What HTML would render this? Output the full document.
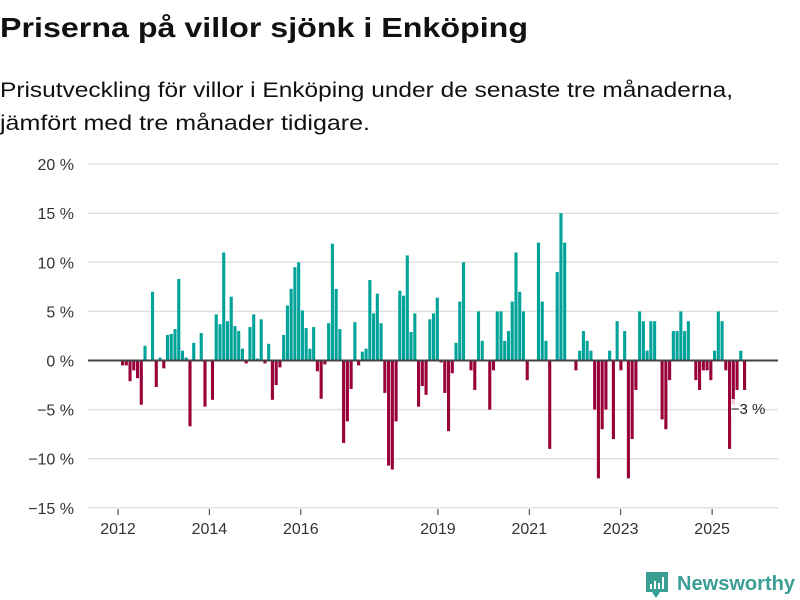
<!DOCTYPE html>
<html><head><meta charset="utf-8"><style>
html,body{margin:0;padding:0;background:#fff;width:800px;height:600px;overflow:hidden}
svg{display:block;font-family:"Liberation Sans","DejaVu Sans",sans-serif}
</style></head><body>
<svg id="chart" width="800" height="600" viewBox="0 0 800 600">
<text x="0" y="37" font-size="28" font-weight="bold" fill="#111" textLength="528" lengthAdjust="spacingAndGlyphs">Priserna på villor sjönk i Enköping</text>
<text x="0" y="97" font-size="21" fill="#111" textLength="733" lengthAdjust="spacingAndGlyphs">Prisutveckling för villor i Enköping under de senaste tre månaderna,</text>
<text x="0" y="130" font-size="21" fill="#111" textLength="370" lengthAdjust="spacingAndGlyphs">jämfört med tre månader tidigare.</text>
<g id="grid"></g>
<g id="yaxis"></g>
<g id="bars"></g>
<line x1="88" x2="778" y1="360.5" y2="360.5" stroke="#444" stroke-width="2"/>
<g id="xaxis"></g>
<g id="label"></g>
<g>
<path d="M646 572 h22 v20 h-8 l-4 6 l-4 -6 h-6 z" fill="#3a9e94"/>
<rect x="650" y="584" width="2" height="5" fill="#fff"/><rect x="654" y="581" width="2" height="8" fill="#fff"/><rect x="658" y="583" width="2" height="6" fill="#fff"/><rect x="662" y="577" width="2" height="12" fill="#fff"/>
<text x="677" y="590" font-size="20" font-weight="bold" fill="#3a9e94" textLength="118" lengthAdjust="spacingAndGlyphs">Newsworthy</text>
</g>
</svg>
<script>
const values = [-0.5,-0.5,-2.1,-1,-1.8,-4.5,1.5,0,7,-2.7,0.3,-0.8,2.6,2.7,3.2,8.3,1,0.3,-6.7,1.8,0,2.8,-4.7,0,-4,4.7,3.7,11,4,6.5,3.5,3,1.2,-0.3,3.4,4.7,0.2,4.2,-0.3,1.7,-4,-2.5,-0.7,2.6,5.6,7.3,9.5,10,5.1,3.3,1.2,3.4,-1.1,-3.9,-0.4,3.8,11.9,7.3,3.2,-8.4,-6.2,-2.9,3.9,-0.5,0.9,1.2,8.2,4.8,6.8,3.8,-3.3,-10.7,-11.1,-6.2,7.1,6.6,10.7,2.9,4.8,-4.7,-2.6,-3.5,4.2,4.8,6.4,-0.2,-3.3,-7.2,-1.3,1.8,6,10,0,-1,-3,5,2,0,-5,-1,5,5,2,3,6,11,7,5,-2,0,0,12,6,2,-9,0,9,15,12,0,0,-1,1,3,2,1,-5,-12,-7,-5,1,-8,4,-1,3,-12,-8,-3,5,4,1,4,4,0,-6,-7,-2,3,3,5,3,4,0,-2,-3,-1,-1,-2,1,5,4,-1,-9,-4.5,-3,1,-3];
const yTicks = [20,15,10,5,0,-5,-10,-15];
const yTickLabels = ["20 %","15 %","10 %","5 %","0 %","−5 %","−10 %","−15 %"];
const xTickYears = [2012,2014,2016,2019,2021,2023,2025];
const lastLabel = "−3 %";
const NS="http://www.w3.org/2000/svg";
function y(v){return 360.5 - v*9.82;}
function xBar(i){return 121 + i*3.747;}
function xYear(yr){return 118 + (yr-2012)*45.7;}
function mk(t,a){const e=document.createElementNS(NS,t);for(const k in a)e.setAttribute(k,a[k]);return e;}
const grid=document.getElementById('grid'),ya=document.getElementById('yaxis');
yTicks.forEach((t,i)=>{
  if(t!==0){const l=mk('line',{x1:88,x2:778,y1:y(t),y2:y(t),stroke:'#e0e0e0','stroke-width':1.5});
  
  
  grid.appendChild(l);}
  const tx=mk('text',{x:74,y:y(t)+6,'font-size':16,fill:'#333','text-anchor':'end'});
  tx.textContent=yTickLabels[i];
  
  
  ya.appendChild(tx);
});
const bars=document.getElementById('bars');
values.forEach((v,i)=>{
  const r=mk('rect',{x:xBar(i),width:3.1,y:Math.min(y(v),y(0)),height:Math.abs(y(v)-y(0)),fill:v>=0?'#00a399':'#990039'});
  
  
  bars.appendChild(r);
});
const xa=document.getElementById('xaxis');
xTickYears.forEach(yr=>{
  const t=mk('line',{x1:xYear(yr),x2:xYear(yr),y1:509,y2:515,stroke:'#333','stroke-width':1});
  
  
  xa.appendChild(t);
  const tx=mk('text',{x:xYear(yr),y:534,'font-size':16,fill:'#333','text-anchor':'middle'});
  tx.textContent=yr;
  
  
  xa.appendChild(tx);
});
const lg=document.getElementById('label');
const li=values.length-1, lv=values[li];
const lx=xBar(li)+2, ly=y(lv)+19;
const bg=mk('rect',{x:lx-14,y:ly-10,width:34,height:18,fill:'#fff','fill-opacity':0.8});
lg.appendChild(bg);
const lt=mk('text',{x:lx+3,y:ly+5,'font-size':15,fill:'#222','text-anchor':'middle'});
lt.textContent=lastLabel;


lg.appendChild(lt);
</script>
</body></html>
